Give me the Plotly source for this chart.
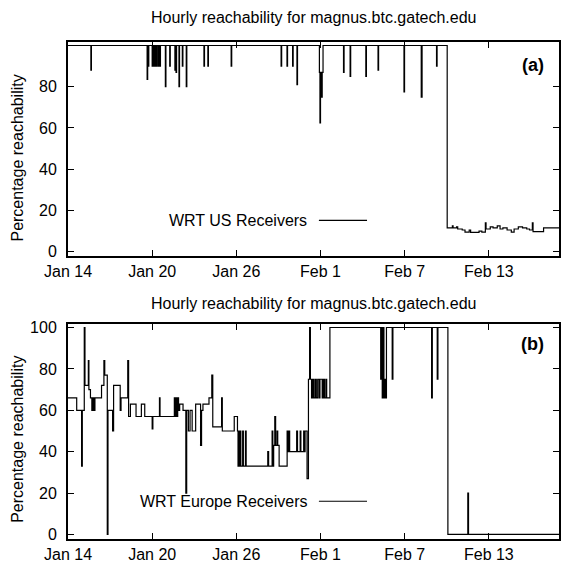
import plotly.graph_objects as go

# ---- data (days since Jan 14, percentage reachability) ----
DAY_TICKS = [0, 6, 12, 18, 24, 30]
DAY_LABELS = ["Jan 14", "Jan 20", "Jan 26", "Feb 1", "Feb 7", "Feb 13"]
Y_TICKS_TOP = [0, 20, 40, 60, 80]
Y_TICKS_BOTTOM = [0, 20, 40, 60, 80, 100]

TITLE = "Hourly reachability for magnus.btc.gatech.edu"
Y_TITLE = "Percentage reachability"
US_LABEL = "WRT US Receivers"
EU_LABEL = "WRT Europe Receivers"

us_days = [0.00, 1.63, 1.67, 5.64, 5.68, 5.72, 5.76, 6.00, 6.04, 6.12, 6.16,
           6.22, 6.26, 6.32, 6.36, 6.45, 6.49, 6.55, 6.59, 6.94, 6.98, 7.25,
           7.29, 7.62, 7.66, 7.70, 7.74, 7.91, 7.95, 8.15, 8.19, 8.43, 8.47,
           9.69, 9.73, 9.97, 10.01, 11.63, 11.67, 15.19, 15.23, 15.61, 15.65,
           16.01, 16.05, 16.32, 16.36, 17.92, 17.96, 18.00, 18.08, 18.12,
           18.18, 19.64, 19.68, 20.11, 20.15, 21.23, 21.27, 22.10, 22.14,
           23.95, 23.99, 25.18, 25.24, 26.27, 26.31,
           27.03, 27.40, 27.45, 27.70, 27.78, 28.10, 28.30, 28.60, 28.70,
           29.30, 29.50, 29.75, 29.80, 30.10, 30.30, 30.60, 30.80, 31.00,
           31.30, 31.60, 31.80, 32.10, 32.40, 32.70, 32.90, 33.10, 33.15,
           33.90, 35.00]
us_pct = [100, 88, 100, 83.5, 100, 90, 100, 90, 100, 90, 100,
          90, 100, 90, 100, 90, 100, 90, 100, 80, 100, 90,
          100, 88, 100, 87, 100, 80, 100, 90, 100, 80, 100,
          90, 100, 90, 100, 90, 100, 90, 100, 90, 100,
          90, 100, 81, 100, 87, 62.5, 87, 75, 87,
          100, 87, 100, 85, 100, 85, 100, 88, 100,
          77.5, 100, 75, 100, 90, 100,
          11.5, 12.5, 11.5, 12, 11, 10.5, 9.5, 10.5, 9.4,
          10, 9.5, 14, 11, 12, 11.5, 12.5, 11, 11.5,
          10.5, 9.5, 11, 12, 11.5, 11, 10.5, 14, 9.7,
          11.5, 11.5]

eu_days = [0.00, 0.62, 0.97, 1.02, 1.16, 1.21, 1.45, 1.49, 1.60, 1.70, 1.78,
           1.85, 1.92, 2.39, 2.56, 2.62, 2.80, 2.85, 3.18, 3.25, 3.72, 3.78,
           4.26, 4.32, 4.45, 4.85, 5.23, 5.47, 6.00, 6.05, 6.52, 6.56, 7.58,
           7.62, 7.70, 7.74, 7.82, 7.88, 7.96, 8.20, 8.40, 8.46, 8.58, 8.70,
           8.85, 9.10, 9.45, 9.52, 9.62, 10.05, 10.25, 10.32, 10.95, 11.00,
           11.85, 12.08, 12.12, 12.18, 12.22, 12.28, 12.32, 12.45, 12.50,
           12.65, 12.70, 14.24, 14.30, 14.55, 14.60, 14.66, 14.74, 14.80,
           14.90, 14.95, 15.05, 15.62, 15.68, 15.75, 15.80, 16.30, 16.36,
           16.55, 16.60, 16.80, 16.84, 16.90, 17.04, 17.14, 17.22, 17.28,
           17.36, 17.44, 17.52, 17.62, 17.70, 17.80, 17.90, 17.96, 18.12,
           18.20, 18.28, 18.38, 18.44, 18.67, 22.29, 22.34, 22.40, 22.46,
           22.52, 22.58, 22.64, 22.70, 23.11, 23.16, 25.92, 25.97, 26.32,
           26.37, 27.08, 28.50, 28.55, 35.00]
eu_pct = [66, 60, 33, 60, 100, 72, 84, 70, 66, 60, 66,
          60, 66, 72, 84, 77, 0, 60, 50, 72, 60, 66,
          84, 57, 63, 57, 63, 57, 51, 57, 66, 57, 66,
          57, 66, 57, 66, 60, 63, 60, 20, 60, 50, 60,
          50, 63, 43, 60, 63, 66, 77, 52, 66, 50,
          57, 50, 33, 50, 33, 50, 33, 50, 33,
          50, 33, 40, 33, 50, 33, 43, 57, 43,
          50, 43, 33, 50, 40, 50, 40, 50, 40,
          50, 40, 50, 40, 50, 27, 75, 100, 75,
          66, 75, 66, 75, 66, 75, 66, 75, 66,
          75, 66, 75, 66, 100, 75, 100, 66, 100,
          66, 75, 66, 100, 75, 100, 66, 100, 75,
          100, 0, 20, 0, 0]

FONT = "Liberation Sans, Arial, Helvetica, sans-serif"

fig = go.Figure()
fig.add_trace(go.Scatter(x=us_days, y=us_pct, mode="lines", line_shape="hv",
                         line=dict(color="black", width=1.2), xaxis="x", yaxis="y",
                         name=US_LABEL, showlegend=False))
fig.add_trace(go.Scatter(x=eu_days, y=eu_pct, mode="lines", line_shape="hv",
                         line=dict(color="black", width=1.2), xaxis="x2", yaxis="y2",
                         name=EU_LABEL, showlegend=False))

common_x = dict(range=[0, 35], tickvals=DAY_TICKS, ticktext=DAY_LABELS,
                ticks="inside", ticklen=6, tickwidth=1, tickcolor="black",
                showline=True, linecolor="black", linewidth=2, mirror="ticks",
                showgrid=False, zeroline=False,
                tickfont=dict(size=16, color="black", family=FONT))
common_y = dict(ticks="inside", ticklen=6, tickwidth=1, tickcolor="black",
                showline=True, linecolor="black", linewidth=2, mirror="ticks",
                showgrid=False, zeroline=False, ticklabelstandoff=6,
                tickfont=dict(size=16, color="black", family=FONT))

fig.update_layout(
    width=562, height=564,
    margin=dict(l=68, r=1, t=42, b=23),
    plot_bgcolor="white", paper_bgcolor="white",
    showlegend=False,
    font=dict(family=FONT, size=16, color="black"),
    xaxis=dict(domain=[0, 1], anchor="y", **common_x),
    yaxis=dict(domain=[0.569, 1], anchor="x", range=[-2.2, 101.7],
               tickvals=Y_TICKS_TOP, **common_y),
    xaxis2=dict(domain=[0, 1], anchor="y2", **common_x),
    yaxis2=dict(domain=[0, 0.433], anchor="x2", range=[-2.2, 101.8],
                tickvals=Y_TICKS_BOTTOM, **common_y),
)

ann = []
for ty in (1.050, 0.473):
    ann.append(dict(text=TITLE, x=0.5, y=ty, xref="paper", yref="paper",
                    showarrow=False, xanchor="center", yanchor="middle",
                    font=dict(size=16)))
for ty in (0.766, 0.200):
    ann.append(dict(text=Y_TITLE, x=-0.1034, y=ty, xref="paper", yref="paper",
                    showarrow=False, textangle=-90, xanchor="center",
                    yanchor="middle", font=dict(size=16)))
ann.append(dict(text="<b>(a)</b>", x=0.947, y=0.954, xref="paper", yref="paper",
                showarrow=False, xanchor="center", yanchor="middle",
                font=dict(size=18)))
ann.append(dict(text="<b>(b)</b>", x=0.947, y=0.393, xref="paper", yref="paper",
                showarrow=False, xanchor="center", yanchor="middle",
                font=dict(size=18)))
for label, ly in ((US_LABEL, 0.641), (EU_LABEL, 0.076)):
    ann.append(dict(text=label, x=0.491, y=ly, xref="paper", yref="paper",
                    showarrow=False, xanchor="right", yanchor="middle",
                    font=dict(size=16)))
fig.update_layout(annotations=ann)

shapes = []
for ly in (0.641, 0.076):
    shapes.append(dict(type="line", xref="paper", yref="paper",
                       x0=0.511, x1=0.609, y0=ly, y1=ly,
                       line=dict(color="black", width=1.2)))
fig.update_layout(shapes=shapes)

fig.write_html("out.html",
               config={"displayModeBar": False},
               post_script="document.body.style.margin='0';"
                           "document.body.style.overflow='hidden';")
